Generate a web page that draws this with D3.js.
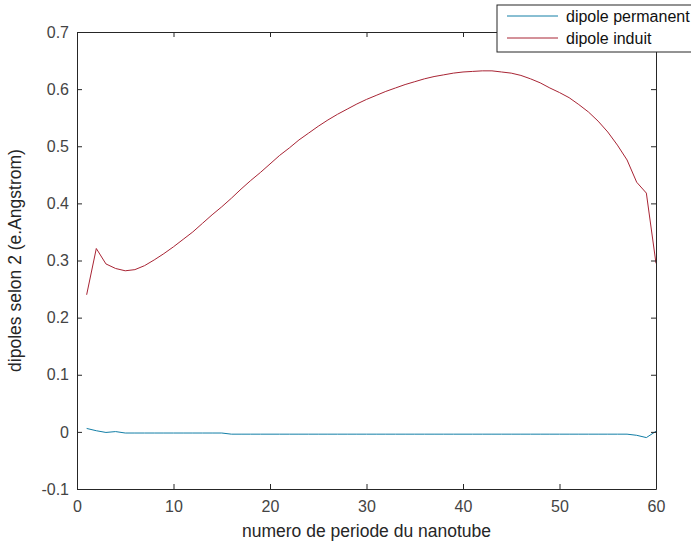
<!DOCTYPE html>
<html>
<head>
<meta charset="utf-8">
<script src="https://cdn.jsdelivr.net/npm/d3@7"></script>
<style>
  html, body { margin: 0; padding: 0; background: #fff; }
  svg { display: block; font-family: "Liberation Sans", Arial, Helvetica, sans-serif; }
</style>
</head>
<body>
<svg id="chart" width="691" height="546"></svg>
<script>
// period index along the nanotube
const periods = d3.range(1, 61);

// permanent dipole per period
const dipolePermanent = [
  0.006, 0.002, -0.001, 0.0005, -0.002, -0.002, -0.002, -0.002, -0.002, -0.002,
  -0.002, -0.002, -0.002, -0.002, -0.002, -0.004, -0.004, -0.004, -0.004, -0.004,
  -0.004, -0.004, -0.004, -0.004, -0.004, -0.004, -0.004, -0.004, -0.004, -0.004,
  -0.004, -0.004, -0.004, -0.004, -0.004, -0.004, -0.004, -0.004, -0.004, -0.004,
  -0.004, -0.004, -0.004, -0.004, -0.004, -0.004, -0.004, -0.004, -0.004, -0.004,
  -0.004, -0.004, -0.004, -0.004, -0.004, -0.004, -0.004, -0.006, -0.010, 0.001
];

// induced dipole per period
const dipoleInduit = [
  0.240, 0.321, 0.294, 0.286, 0.282, 0.284, 0.291, 0.301, 0.312, 0.324,
  0.337, 0.350, 0.365, 0.380, 0.394, 0.409, 0.425, 0.440, 0.454, 0.469,
  0.484, 0.497, 0.511, 0.523, 0.535, 0.546, 0.556, 0.565, 0.574, 0.582,
  0.589, 0.596, 0.602, 0.608, 0.613, 0.618, 0.622, 0.625, 0.628, 0.630,
  0.631, 0.632, 0.632, 0.630, 0.628, 0.624, 0.618, 0.611, 0.602, 0.594,
  0.585, 0.573, 0.560, 0.544, 0.525, 0.502, 0.476, 0.437, 0.418, 0.295
];

const xTicks = [0, 10, 20, 30, 40, 50, 60];
const yTicks = [-0.1, 0, 0.1, 0.2, 0.3, 0.4, 0.5, 0.6, 0.7];
const yTickLabels = ["-0.1", "0", "0.1", "0.2", "0.3", "0.4", "0.5", "0.6", "0.7"];

const seriesNames = ["dipole permanent", "dipole induit"];
const seriesColors = ["#127ea6", "#a82434"];
const xLabel = "numero de periode du nanotube";
const yLabel = "dipoles selon 2 (e.Angstrom)";

const svg = d3.select("#chart");
const plotLeft = 77, plotRight = 656, plotTop = 32, plotBottom = 489;

const x = d3.scaleLinear().domain([0, 60]).range([plotLeft, plotRight]);
const y = d3.scaleLinear().domain([-0.1, 0.7]).range([plotBottom, plotTop]);

const axisColor = "#262626";

// data lines
const series = [dipolePermanent, dipoleInduit];
const line = d3.line().x((d, i) => x(periods[i])).y(d => y(d));
series.forEach((vals, k) => {
  svg.append("path")
    .datum(vals)
    .attr("d", line)
    .attr("fill", "none")
    .attr("stroke", seriesColors[k])
    .attr("stroke-width", 1);
});

// axes with inward ticks on all four sides, labels on bottom and left
function styleAxis(g) {
  g.selectAll(".domain").attr("stroke", axisColor).attr("stroke-width", 1);
  g.selectAll(".tick line").attr("stroke", axisColor);
  g.selectAll(".tick text").attr("fill", "#444").style("font-size", "16px");
}

svg.append("g")
  .attr("transform", `translate(0,${plotBottom})`)
  .call(d3.axisBottom(x).tickValues(xTicks).tickSize(-5).tickSizeOuter(0).tickPadding(9).tickFormat(d3.format("d")))
  .call(styleAxis)
  .call(g => g.selectAll(".tick text").attr("dy", "0.85em"));

svg.append("g")
  .attr("transform", `translate(0,${plotTop})`)
  .call(d3.axisTop(x).tickValues(xTicks).tickSize(-5).tickSizeOuter(0).tickFormat(""))
  .call(styleAxis);

svg.append("g")
  .attr("transform", `translate(${plotLeft},0)`)
  .call(d3.axisLeft(y).tickValues(yTicks).tickSize(-5).tickSizeOuter(0).tickPadding(8)
    .tickFormat((d, i) => yTickLabels[i]))
  .call(styleAxis);

svg.append("g")
  .attr("transform", `translate(${plotRight},0)`)
  .call(d3.axisRight(y).tickValues(yTicks).tickSize(-5).tickSizeOuter(0).tickFormat(""))
  .call(styleAxis);

// axis titles
svg.append("text")
  .attr("x", (plotLeft + plotRight) / 2)
  .attr("y", 537)
  .attr("text-anchor", "middle")
  .attr("fill", "#262626")
  .style("font-size", "17.5px")
  .text(xLabel);

svg.append("text")
  .attr("transform", `translate(21,${(plotTop + plotBottom) / 2}) rotate(-90)`)
  .attr("text-anchor", "middle")
  .attr("fill", "#262626")
  .style("font-size", "17.5px")
  .text(yLabel);

// legend box in the upper right corner
const lg = svg.append("g");
lg.append("rect")
  .attr("x", 497).attr("y", 5)
  .attr("width", 200).attr("height", 47)
  .attr("fill", "#fff")
  .attr("stroke", axisColor)
  .attr("stroke-width", 1);

seriesNames.forEach((name, k) => {
  const cy = 16 + k * 22;
  lg.append("line")
    .attr("x1", 507).attr("x2", 558)
    .attr("y1", cy).attr("y2", cy)
    .attr("stroke", seriesColors[k])
    .attr("stroke-width", 1);
  lg.append("text")
    .attr("x", 566).attr("y", cy + 5.5)
    .attr("fill", "#111")
    .style("font-size", "16px")
    .text(name);
});
</script>
</body>
</html>
